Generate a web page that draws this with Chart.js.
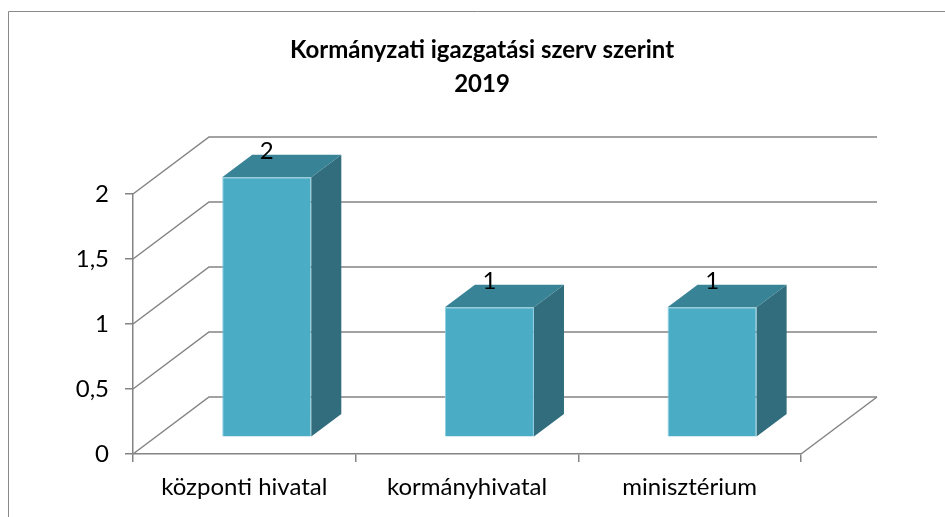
<!DOCTYPE html>
<html>
<head>
<meta charset="utf-8">
<script src="https://cdn.jsdelivr.net/npm/chart.js@4/dist/chart.umd.min.js"></script>
<style>
  html, body { margin: 0; padding: 0; background: #fff; }
  #wrap { width: 945px; height: 517px; position: relative; }
</style>
</head>
<body>
<div id="wrap"><canvas id="c" width="945" height="517"></canvas></div>
<script>
// ---- data ----
const titleLines = ['Kormányzati igazgatási szerv szerint', '2019'];
const categories = ['központi hivatal', 'kormányhivatal', 'minisztérium'];
const values = [2, 1, 1];
const yTicks = [0, 0.5, 1, 1.5, 2];

// ---- 3D look (styles) ----
const DEPTH_DX = 76, DEPTH_DY = -57;     // full depth of the floor / walls
const BAR_FRONT = 0.295;                 // where the bar front sits in the depth
const BAR_DEPTH = 0.395;                 // depth of each bar
const GRID_COLOR = '#848484';
const FRONT_COLOR = '#4BACC6', TOP_COLOR = '#388396', SIDE_COLOR = '#316D7C';
const FONT = 'Lato, "Open Sans", sans-serif';

const threeD = {
  id: 'threeD',
  beforeDraw(chart) {
    const ctx = chart.ctx;
    ctx.save();
    ctx.fillStyle = '#fff';
    ctx.fillRect(0, 0, chart.width, chart.height);
    ctx.strokeStyle = '#8a8a8a';
    ctx.lineWidth = 1;
    ctx.beginPath();
    ctx.moveTo(8.5, chart.height + 5);
    ctx.lineTo(8.5, 11.5);
    ctx.lineTo(chart.width + 5, 11.5);
    ctx.stroke();
    ctx.restore();
  },
  beforeDatasetsDraw(chart) {
    const ctx = chart.ctx;
    const ys = chart.scales.y, a = chart.chartArea;
    ctx.save();
    ctx.strokeStyle = GRID_COLOR;
    ctx.lineWidth = 1.5;
    yTicks.forEach(v => {
      const y = ys.getPixelForValue(v);
      ctx.beginPath();
      ctx.moveTo(a.left, y);
      ctx.lineTo(a.left + DEPTH_DX, y + DEPTH_DY);
      ctx.lineTo(a.right + DEPTH_DX, y + DEPTH_DY);
      ctx.stroke();
    });
    const y0 = ys.getPixelForValue(0);
    ctx.beginPath();
    ctx.moveTo(a.right, y0);
    ctx.lineTo(a.right + DEPTH_DX, y0 + DEPTH_DY);
    ctx.stroke();
    ctx.restore();
    ctx.save();
    ctx.translate(DEPTH_DX * BAR_FRONT, DEPTH_DY * BAR_FRONT);
  },
  afterDatasetsDraw(chart) {
    const ctx = chart.ctx;
    const ddx = DEPTH_DX * BAR_DEPTH, ddy = DEPTH_DY * BAR_DEPTH;
    const meta = chart.getDatasetMeta(0);
    meta.data.forEach(el => {
      const p = el.getProps(['x', 'y', 'base', 'width'], true);
      const xl = p.x - p.width / 2, xr = p.x + p.width / 2;
      const yt = Math.min(p.y, p.base), yb = Math.max(p.y, p.base);
      ctx.fillStyle = SIDE_COLOR;
      ctx.beginPath();
      ctx.moveTo(xr, yt);
      ctx.lineTo(xr + ddx, yt + ddy);
      ctx.lineTo(xr + ddx, yb + ddy);
      ctx.lineTo(xr, yb);
      ctx.closePath();
      ctx.fill();
      ctx.fillStyle = TOP_COLOR;
      ctx.beginPath();
      ctx.moveTo(xl, yt);
      ctx.lineTo(xl + ddx, yt + ddy);
      ctx.lineTo(xr + ddx, yt + ddy);
      ctx.lineTo(xr, yt);
      ctx.closePath();
      ctx.fill();
    });
    ctx.restore();
    // data labels
    ctx.save();
    ctx.fillStyle = '#000';
    ctx.font = '24px ' + FONT;
    ctx.textAlign = 'center';
    ctx.textBaseline = 'middle';
    meta.data.forEach((el, i) => {
      const p = el.getProps(['x', 'y'], true);
      const x = p.x + DEPTH_DX * BAR_FRONT;
      const y = p.y + DEPTH_DY * BAR_FRONT - 26;
      ctx.fillText(String(values[i]).replace('.', ','), x, y);
    });
    ctx.restore();
  }
};

new Chart(document.getElementById('c'), {
  type: 'bar',
  data: {
    labels: categories,
    datasets: [{
      data: values,
      backgroundColor: FRONT_COLOR,
      borderColor: '#8ccfe0',
      borderWidth: 1,
      barPercentage: 0.4,
      categoryPercentage: 1,
      clip: false
    }]
  },
  options: {
    responsive: false,
    animation: false,
    events: [],
    layout: { padding: { left: 19, right: 0, top: 0, bottom: 0 } },
    plugins: {
      legend: { display: false },
      tooltip: { enabled: false },
      title: {
        display: true,
        text: titleLines,
        color: '#000',
        font: { family: FONT, size: 24, weight: 'bold', lineHeight: 1.417 },
        padding: { top: 33, bottom: 93 }
      }
    },
    scales: {
      x: {
        grid: { drawOnChartArea: false, drawTicks: true, tickLength: 8, color: GRID_COLOR, lineWidth: 1.5, offset: true },
        border: { display: true, color: GRID_COLOR, width: 1.5 },
        ticks: { color: '#000', font: { family: FONT, size: 24 }, padding: 11, maxRotation: 0 },
        afterFit(scale) { scale.height = 63; }
      },
      y: {
        min: 0, max: 2,
        grid: { drawOnChartArea: false, drawTicks: true, tickLength: 8, color: GRID_COLOR, lineWidth: 1.5 },
        border: { display: true, color: GRID_COLOR, width: 1.5 },
        ticks: {
          stepSize: 0.5,
          color: '#000',
          font: { family: FONT, size: 24 },
          padding: 16,
          callback: v => String(v).replace('.', ',')
        },
        afterFit(scale) { scale.width = 114; }
      },
      spacer: {
        type: 'linear',
        position: 'right',
        display: true,
        grid: { display: false },
        border: { display: false },
        ticks: { display: false },
        afterFit(scale) { scale.width = 144; }
      }
    }
  },
  plugins: [threeD]
});
</script>
</body>
</html>
